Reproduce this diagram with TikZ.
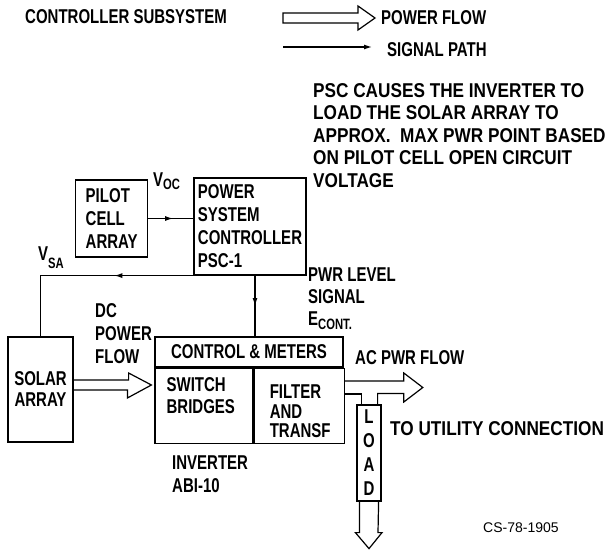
\documentclass[tikz,border=0pt]{standalone}
\usepackage{fontspec}
\setmainfont{Liberation Sans}[FakeStretch=0.75]
\newfontfamily\widefont{Liberation Sans}[FakeStretch=0.86]
\newfontfamily\plainfont{Liberation Sans}
\usetikzlibrary{calc, positioning, arrows.meta, decorations.markings}

\begin{document}
\begin{tikzpicture}[
        x=1pt, y=-1pt,
        font=\bfseries\fontsize{20}{23}\selectfont,
        >=Latex,
        box/.style={
            draw,
            line width=1.2pt,
            align=center,
            inner sep=4pt
        },
        lbl/.style={inner sep=0pt, align=left},
        sig/.style={line width=1.2pt},
        mid/.style={
            postaction={decorate},
            decoration={markings,
                mark=at position #1 with {\arrow{Latex[length=8pt,width=5pt]}}}
        },
        mid/.default=0.5,
        pwr/.style={line width=1.2pt, line join=miter}
    ]

    \useasboundingbox (0,0) rectangle (608,551);

    % Legend
    \node[lbl, anchor=base west] (title) at (25,24) {CONTROLLER SUBSYSTEM};
    \node[lbl, anchor=base west] (pwrkey) at (381,25) {POWER FLOW};
    \node[lbl, anchor=base west] (sigkey) at (387,57) {SIGNAL PATH};
    \draw[pwr] (283,13) -- (358,13) -- (358,6) -- (375,18) -- (358,30) -- (358,23) -- (283,23) -- cycle;
    \draw[sig, -{Latex[length=8pt,width=5pt]}] (283,47) -- (372,47);

    \node[lbl, anchor=north west, font=\widefont\bfseries\fontsize{20}{22.5}\selectfont] (note) at (313,83) {
        PSC CAUSES THE INVERTER TO\\
        LOAD THE SOLAR ARRAY TO\\
        APPROX.~~MAX PWR POINT BASED\\
        ON PILOT CELL OPEN CIRCUIT\\
        VOLTAGE
    };

    % Controller
    \node[box, align=left, minimum width=110pt, minimum height=97pt] (psc) at (250,226.5) {
        POWER\\
        SYSTEM\\
        CONTROLLER\\
        PSC-1
    };

    \node[box, align=left, minimum width=72pt, minimum height=77pt,
          left=45pt of psc.west, yshift=8pt] (pilot) {
        PILOT\\
        CELL\\
        ARRAY
    };

    \node[lbl, anchor=base west] (voc) at (153,186) {V\raisebox{-3pt}{\fontsize{15}{15}\selectfont OC}};
    \node[lbl, anchor=base west] (vsa) at (38,260) {V\raisebox{-8pt}{\fontsize{15}{15}\selectfont SA}};

    \node[lbl, anchor=north west, font=\bfseries\fontsize{20}{22}\selectfont] (pwrlevel) at (308,268) {
        PWR LEVEL\\
        SIGNAL\\
        E\raisebox{-4pt}{\fontsize{15}{15}\selectfont CONT.}
    };

    % Solar array and inverter
    \node[box, minimum width=65pt, minimum height=105pt,
          font=\bfseries\fontsize{20}{21}\selectfont] (solar) at (40.5,389.5) {
        SOLAR\\
        ARRAY
    };

    \node[box, minimum width=188pt, minimum height=30pt] (ctrl) at (249,352) {CONTROL \& METERS};

    \node[box, minimum width=98pt, minimum height=75pt,
          below right=0pt of ctrl.south west, anchor=north west] (switch) {};
    \node[box, minimum width=90pt, minimum height=75pt,
          right=0pt of switch.north east, anchor=north west] (filter) {};

    \node[lbl, below right=10pt and 12pt of switch.north west,
          font=\bfseries\fontsize{20}{21.5}\selectfont] (switchtxt) {
        SWITCH\\
        BRIDGES
    };
    \node[lbl, below right=17pt and 16pt of filter.north west,
          font=\bfseries\fontsize{20}{19.5}\selectfont] (filtertxt) {
        FILTER\\
        AND\\
        TRANSF
    };

    \node[lbl, anchor=north west] (dcflow) at (95,303) {
        DC\\
        POWER\\
        FLOW
    };

    \node[lbl, anchor=north west] (inv) at (172,456) {
        INVERTER\\
        ABI-10
    };

    % Load
    \node[box, align=center, inner sep=0pt, minimum width=24pt, minimum height=96pt,
          font=\bfseries\fontsize{20}{24}\selectfont] (load) at (369,453) {
        L\\
        O\\
        A\\
        D
    };

    \node[lbl, anchor=base west] (acflow) at (355,364) {AC PWR FLOW};
    \node[lbl, anchor=base west, font=\widefont\bfseries\fontsize{20}{20}\selectfont] (utility) at (390,435) {TO UTILITY CONNECTION};
    \node[lbl, anchor=base west, font=\plainfont\fontsize{14}{14}\selectfont] (csno) at (483,532) {CS-78-1905};

    % Signal paths
    \draw[sig, mid=0.55] (pilot) -- (psc.west |- pilot);
    \draw[sig, mid=0.37] (psc.south west) -| (solar.north);
    \coordinate (econt) at ([xshift=5pt]psc.south);
    \draw[sig, mid] (econt) -- (econt |- ctrl.north);

    % Power flow
    \draw[pwr] (solar.east |- 0,380) -| ++(55,-7) -- ($(switch.west |- 0,385)+(-3,0)$)
        -- ++(-24,13) |- (solar.east |- 0,390);

    \draw[pwr] (filter.east |- 0,381) -| ++(59,-8) -- ++(19,14.5) -- ++(-19,14.5)
        |- ($(load.north east)+(-4,-11)$) -- ($(load.north east)+(-4,0)$);
    \draw[pwr] (filter.east |- 0,394) -| ($(load.north west)+(5,0)$);

    \draw[pwr] ($(load.south west)+(3,0)$) -- ++(0,31) -- ++(-4,0) -- ($(load.south)+(0,47)$)
        -- ++(13,-16) -- ++(-4,0) -- ($(load.south east)+(-3,0)$);

\end{tikzpicture}
\end{document}
